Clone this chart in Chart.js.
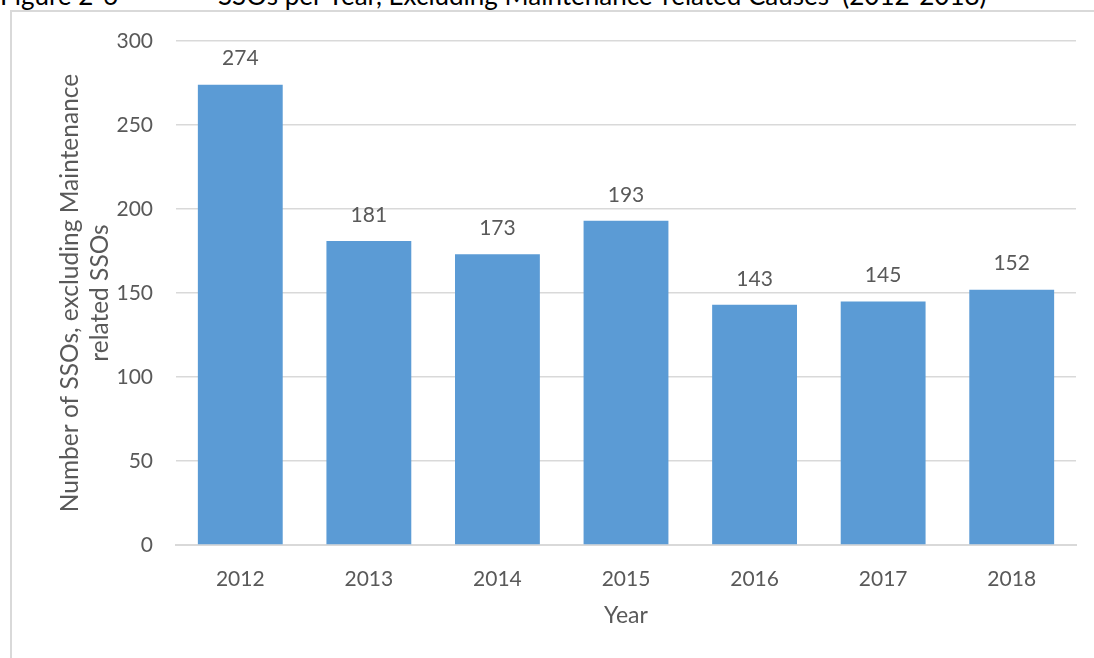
<!DOCTYPE html>
<html>
<head>
<meta charset="utf-8">
<title>SSOs per Year</title>
<script src="https://cdn.jsdelivr.net/npm/chart.js@4.4.1/dist/chart.umd.min.js"></script>
<style>
  html, body { margin: 0; padding: 0; background: #fff; overflow: hidden; }
  #wrap { position: relative; width: 1094px; height: 658px; }
  .caption {
    position: absolute; top: -21px; white-space: pre;
    font-family: Lato, "Noto Sans", sans-serif; font-size: 26px; color: #000;
  }
  #frame {
    position: absolute; left: 10px; top: 10px; width: 1200px; height: 800px;
    border: 2px solid #d9d9d9; box-sizing: border-box;
  }
  #holder { position: absolute; left: 0; top: 0; width: 1094px; height: 658px; }
</style>
</head>
<body>
<div id="wrap">
  <div class="caption" style="left:0">Figure 2-6</div>
  <div class="caption" style="left:218px">SSOs per Year, Excluding Maintenance-related Causes  (2012-2018)</div>
  <div id="frame"></div>
  <div id="holder"><canvas id="graficoSSO"></canvas></div>
</div>
<script>
// Datos del gráfico
const years = ['2012', '2013', '2014', '2015', '2016', '2017', '2018'];
const ssoCounts = [274, 181, 173, 193, 143, 145, 152];
const yTicks = [0, 50, 100, 150, 200, 250, 300];

const FONT = 'Lato, "Noto Sans", sans-serif';
const TEXT_COLOR = '#595959';

// Etiquetas de valor encima de cada barra
const etiquetasValor = {
    id: 'etiquetasValor',
    afterDatasetsDraw(chart) {
        const ctx = chart.ctx;
        const meta = chart.getDatasetMeta(0);
        ctx.save();
        ctx.font = '21px ' + FONT;
        ctx.fillStyle = TEXT_COLOR;
        ctx.textAlign = 'center';
        ctx.textBaseline = 'middle';
        meta.data.forEach((bar, i) => {
            ctx.fillText(String(chart.data.datasets[0].data[i]), bar.x, bar.y - 26);
        });
        ctx.restore();
    }
};

function mostrarGrafico() {
    const ctx = document.getElementById('graficoSSO').getContext('2d');
    new Chart(ctx, {
        type: 'bar',
        data: {
            labels: years,
            datasets: [{
                data: ssoCounts,
                backgroundColor: '#5b9bd5',
                categoryPercentage: 0.66,
                barPercentage: 1.0
            }]
        },
        options: {
            responsive: true,
            maintainAspectRatio: false,
            animation: false,
            layout: { padding: { left: 20, right: 18, top: 41, bottom: 0 } },
            plugins: {
                legend: { display: false },
                tooltip: { enabled: false }
            },
            scales: {
                x: {
                    grid: { display: false, drawTicks: false },
                    border: { display: true, color: '#d9d9d9', width: 2 },
                    ticks: { color: TEXT_COLOR, font: { family: FONT, size: 21 }, padding: 22 },
                    title: {
                        display: true, text: 'Year', color: TEXT_COLOR,
                        font: { family: FONT, size: 23, lineHeight: 1.2 },
                        padding: { top: 0, bottom: 29 }
                    },
                    afterFit(scale) { scale.height = 658 - 545; }
                },
                y: {
                    min: 0, max: 300,
                    afterBuildTicks(scale) { scale.ticks = yTicks.map(v => ({ value: v })); },
                    grid: { color: '#d9d9d9', lineWidth: 1.5, drawTicks: false },
                    border: { display: false },
                    ticks: { color: TEXT_COLOR, font: { family: FONT, size: 21 }, padding: 23 },
                    title: {
                        display: true,
                        text: ['Number of SSOs, excluding Maintenance', 'related SSOs'],
                        color: TEXT_COLOR,
                        font: { family: FONT, size: 24.5, lineHeight: 1.22 },
                        padding: { top: 35, bottom: 0 }
                    },
                    afterFit(scale) { scale.width = 176 - 20; }
                }
            }
        },
        plugins: [etiquetasValor]
    });
}

document.addEventListener('DOMContentLoaded', mostrarGrafico);
</script>
</body>
</html>
